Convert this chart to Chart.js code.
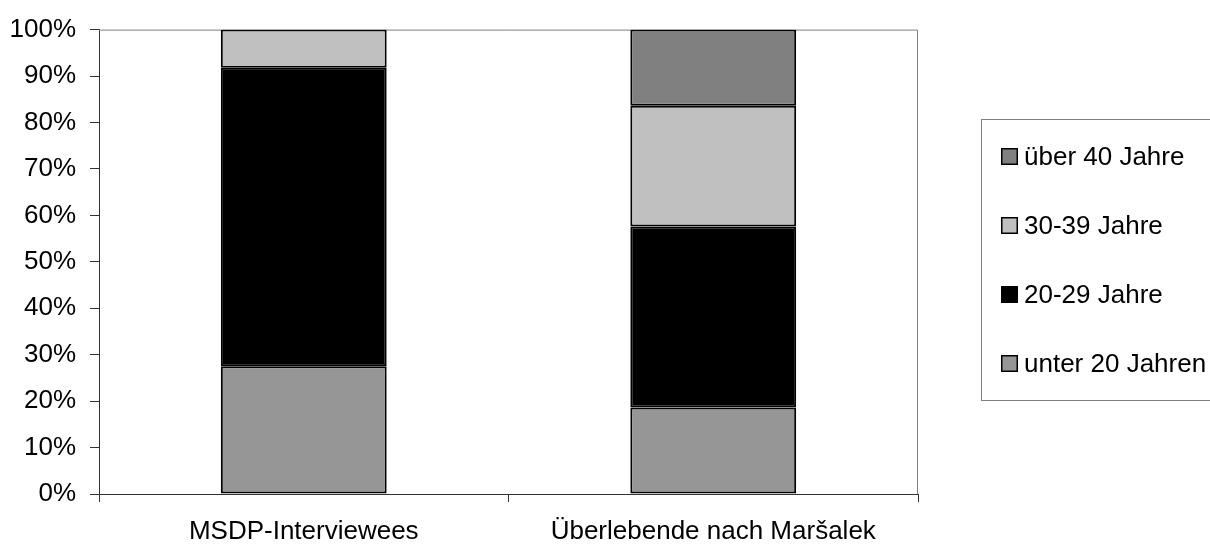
<!DOCTYPE html>
<html>
<head>
<meta charset="utf-8">
<script src="https://cdn.jsdelivr.net/npm/chart.js@4"></script>
<style>
  html, body { margin: 0; padding: 0; background: #fff; }
  #wrap { width: 1210px; height: 545px; }
</style>
</head>
<body>
<div id="wrap"><canvas id="ageChart" width="1210" height="545"></canvas></div>
<script>
// categories and series (percent of each group)
const groups = ['MSDP-Interviewees', 'Überlebende nach Maršalek'];
const under20 = [27.5, 18.6];
const age20to29 = [64.3, 39.0];
const age30to39 = [8.2, 26.0];
const over40 = [0, 16.4];
const yTicks = [0, 10, 20, 30, 40, 50, 60, 70, 80, 90, 100];

const FONT = '"Liberation Sans", Arial, sans-serif';

// frame on top/right of the plot area, like the old Excel chart
const plotFrame = {
    id: 'plotFrame',
    beforeDatasetsDraw(chart) {
        const { ctx, chartArea: a } = chart;
        ctx.save();
        ctx.strokeStyle = '#808080';
        ctx.lineWidth = 1;
        ctx.beginPath();
        ctx.moveTo(a.left, a.top + 0.5);
        ctx.lineTo(a.right - 0.5, a.top + 0.5);
        ctx.lineTo(a.right - 0.5, a.bottom);
        ctx.stroke();
        ctx.restore();
    }
};

// boxed legend on the right, top entry = top of the stack
const boxLegend = {
    id: 'boxLegend',
    afterDraw(chart) {
        const { ctx } = chart;
        ctx.save();
        ctx.strokeStyle = '#808080';
        ctx.lineWidth = 1;
        ctx.strokeRect(981.5, 119.5, 240, 281);
        ctx.font = '26px ' + FONT;
        ctx.textBaseline = 'middle';
        ctx.fillStyle = '#000';
        const sets = chart.data.datasets.slice().reverse();
        sets.forEach((ds, i) => {
            const cy = 156.5 + i * 69;
            ctx.fillStyle = ds.backgroundColor;
            ctx.fillRect(1001, cy - 8.5, 17, 17);
            ctx.strokeStyle = '#000';
            ctx.lineWidth = 1.5;
            ctx.strokeRect(1001.75, cy - 7.75, 15.5, 15.5);
            ctx.fillStyle = '#000';
            ctx.fillText(ds.label, 1024, cy + 1);
        });
        ctx.restore();
    }
};

function barSet(label, data, color) {
    return {
        label: label,
        data: data,
        backgroundColor: color,
        borderColor: '#000',
        borderWidth: 2,
        borderSkipped: false,
        categoryPercentage: 1,
        barPercentage: 0.405
    };
}

new Chart(document.getElementById('ageChart'), {
    type: 'bar',
    data: {
        labels: groups,
        datasets: [
            barSet('unter 20 Jahren', under20, '#969696'),
            barSet('20-29 Jahre', age20to29, '#000000'),
            barSet('30-39 Jahre', age30to39, '#c0c0c0'),
            barSet('über 40 Jahre', over40, '#808080')
        ]
    },
    options: {
        responsive: false,
        animation: false,
        devicePixelRatio: 1,
        layout: { padding: { left: 0, top: 28, right: 292, bottom: 0 } },
        plugins: {
            legend: { display: false },
            tooltip: { enabled: false }
        },
        scales: {
            x: {
                stacked: true,
                grid: {
                    offset: true,
                    drawOnChartArea: false,
                    tickLength: 8,
                    color: '#333'
                },
                border: { color: '#333', width: 1 },
                ticks: {
                    color: '#000',
                    padding: 14,
                    maxRotation: 0,
                    font: { family: FONT, size: 26 }
                },
                afterFit(scale) { scale.height = 51; }
            },
            y: {
                stacked: true,
                min: 0,
                max: 100,
                afterBuildTicks(scale) {
                    scale.ticks = yTicks.map(v => ({ value: v }));
                },
                grid: {
                    drawOnChartArea: false,
                    tickLength: 9,
                    color: '#333'
                },
                border: { color: '#333', width: 1 },
                ticks: {
                    color: '#000',
                    padding: 14,
                    font: { family: FONT, size: 26 },
                    callback: v => v + '%'
                },
                afterFit(scale) { scale.width = 99; }
            }
        }
    },
    plugins: [plotFrame, boxLegend]
});
</script>
</body>
</html>
